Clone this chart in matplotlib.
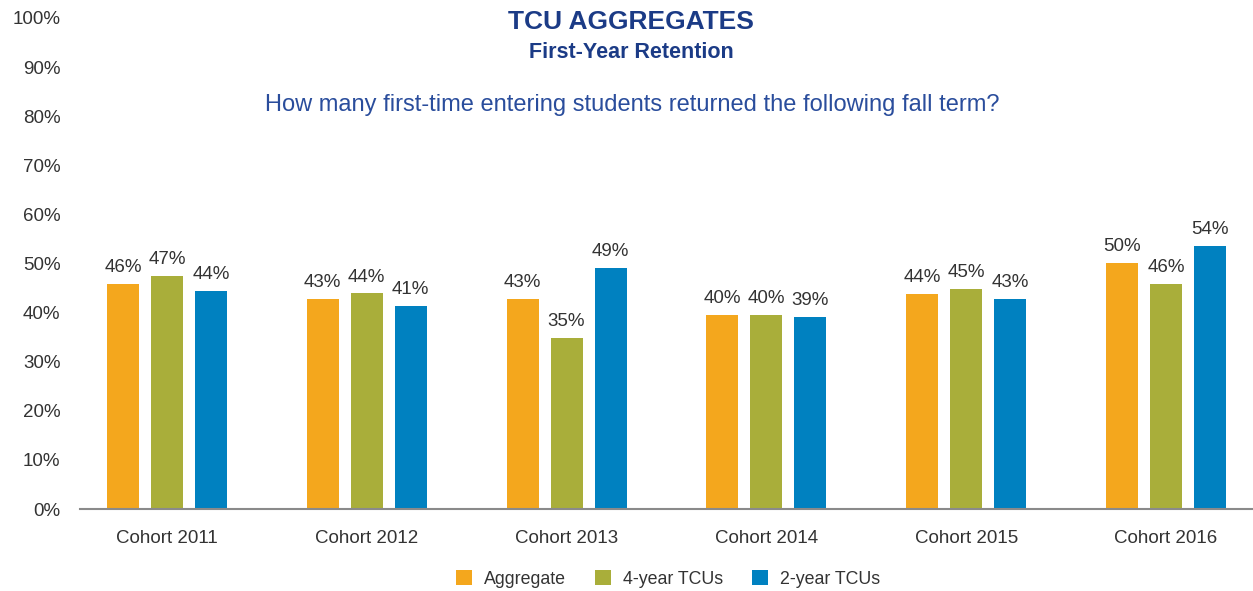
import matplotlib
matplotlib.use("Agg")
import matplotlib.pyplot as plt
from matplotlib.patches import Patch
import numpy as np

cohorts = ["Cohort 2011", "Cohort 2012", "Cohort 2013", "Cohort 2014", "Cohort 2015", "Cohort 2016"]
series_names = ["Aggregate", "4-year TCUs", "2-year TCUs"]
aggregate = [45.9, 42.7, 42.8, 39.5, 43.8, 50.2]
four_year = [47.5, 43.9, 34.8, 39.5, 44.8, 45.8]
two_year = [44.5, 41.3, 49.1, 39.1, 42.8, 53.6]
labels_agg = ["46%", "43%", "43%", "40%", "44%", "50%"]
labels_four = ["47%", "44%", "35%", "40%", "45%", "46%"]
labels_two = ["44%", "41%", "49%", "39%", "43%", "54%"]
yticks = [0, 10, 20, 30, 40, 50, 60, 70, 80, 90, 100]
ytick_labels = [f"{v}%" for v in yticks]

colors = ["#F4A71D", "#A9AE3A", "#0081C0"]
text_gray = "#333333"
navy = "#1B3B86"
sub_blue = "#2A4D9C"

plt.rcParams["font.family"] = ["Liberation Sans", "DejaVu Sans"]

fig = plt.figure(figsize=(12.53, 5.91), dpi=100)
ax = fig.add_axes([80 / 1253, (591 - 509) / 591, (1253 - 80) / 1253, (509 - 18) / 591])

x = np.arange(len(cohorts))
unit = 200.0
w = 32 / unit
step = 44 / unit
series = [aggregate, four_year, two_year]
labs = [labels_agg, labels_four, labels_two]
for i, (vals, lab) in enumerate(zip(series, labs)):
    pos = x + (i - 1) * step
    bars = ax.bar(pos, vals, width=w, color=colors[i], zorder=2)
    for b, v, t in zip(bars, vals, lab):
        ax.text(b.get_x() + b.get_width() / 2, v + 1.6, t, ha="center", va="bottom",
                fontsize=13.5, color=text_gray)

ax.set_xlim(-87 / unit, 5 + 87 / unit)
ax.set_ylim(0, 100)
ax.set_yticks(yticks)
ax.set_yticklabels(ytick_labels, fontsize=13.5, color=text_gray)
ax.set_xticks(x)
ax.set_xticklabels(cohorts, fontsize=13.5, color=text_gray)
ax.tick_params(axis="y", length=0, pad=14)
ax.tick_params(axis="x", length=0, pad=15)
for s in ["top", "right", "left"]:
    ax.spines[s].set_visible(False)
ax.spines["bottom"].set_color("#8a8a8a")
ax.spines["bottom"].set_linewidth(1.5)

fig.text(631 / 1253, 1 - 22 / 591, "TCU AGGREGATES", ha="center", va="center",
         fontsize=19, fontweight="bold", color=navy)
fig.text(631 / 1253, 1 - 53 / 591, "First-Year Retention", ha="center", va="center",
         fontsize=15.5, fontweight="bold", color=navy)
fig.text(632 / 1253, 1 - 105 / 591, "How many first-time entering students returned the following fall term?",
         ha="center", va="center", fontsize=17, color=sub_blue)

handles = [Patch(facecolor=c, edgecolor="none") for c in colors]
fig.legend(handles, series_names, loc="center", bbox_to_anchor=(668 / 1253, 1 - 579 / 591),
           ncol=3, frameon=False, fontsize=12.8, handlelength=0.9, handleheight=0.9,
           handletextpad=0.7, columnspacing=1.6, labelcolor=text_gray)

fig.savefig("out.png", dpi=100)
